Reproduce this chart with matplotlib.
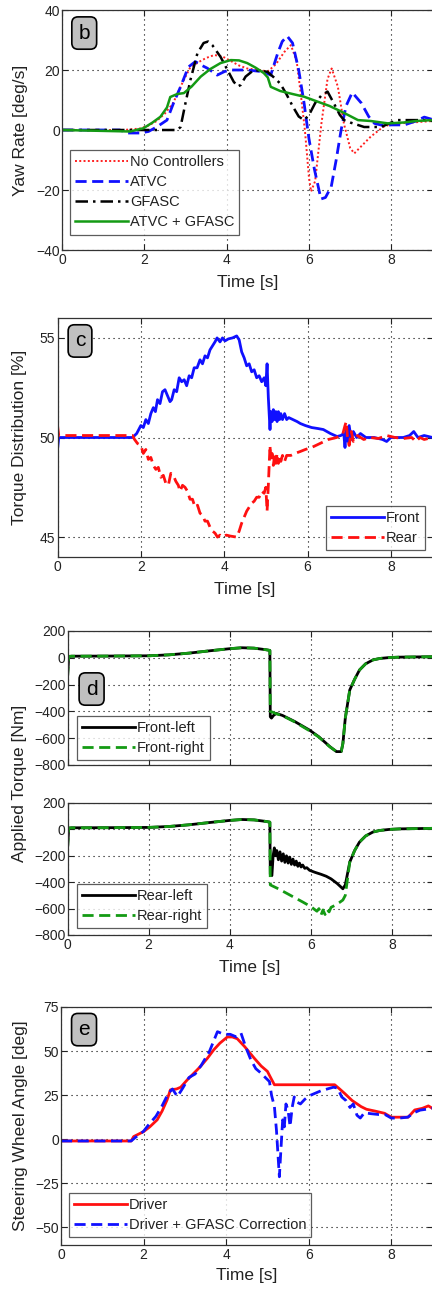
import matplotlib
matplotlib.use("Agg")
import matplotlib.pyplot as plt

plt.rcParams['font.family'] = ['Liberation Sans', 'DejaVu Sans']

# ---------------- (b) yaw rate ----------------
t_nc = [0, 1.5, 1.9, 2.1, 2.3, 2.5, 2.7, 2.9, 3.1, 3.3, 3.5, 3.7, 3.9, 4.1, 4.3, 4.5, 4.8, 5.0,
        5.2, 5.4, 5.56, 5.7, 5.8, 5.9, 6.0, 6.05, 6.15, 6.3, 6.45, 6.55, 6.7, 6.85, 7.0, 7.1,
        7.3, 7.5, 7.8, 8.0, 8.5, 9.0]
yaw_nc = [0, 0, 0.5, 1.5, 3, 5.5, 9, 15, 20.5, 22.5, 24, 25, 24.5, 23, 21.5, 20.5, 20, 19.5,
          22, 26, 28.3, 23, 12, 0, -16, -20.5, -17, 2, 17, 20.5, 14.5, 2, -6, -7.8,
          -5, -2.2, 1, 2, 2.5, 3]

t_atvc = [0, 1.4, 1.6, 1.9, 2.1, 2.3, 2.55, 2.71, 2.88, 3.07, 3.24, 3.4, 3.53, 3.77, 3.95, 4.1,
          4.5, 4.9, 5.07, 5.24, 5.35, 5.47, 5.6, 5.75, 5.88, 6.0, 6.13, 6.29, 6.4, 6.54, 6.66,
          6.78, 6.9, 7.05, 7.27, 7.45, 7.59, 7.8, 8.0, 8.32, 8.6, 8.8, 9.0]
yaw_atvc = [0, 0, -1, -1, -0.5, 1, 3.3, 9, 14.4, 21, 22.8, 21.5, 20.6, 18.3, 19.5, 20,
            20, 19.4, 18.3, 25.6, 29.5, 31.3, 29, 20, 9, -3, -13, -23, -22.5, -18.9, -10,
            0, 8, 12.5, 9, 4.5, 2.2, 1.5, 1.7, 1.7, 3, 4.3, 3.5]

t_gfasc = [0, 1.5, 2.5, 2.8, 2.88, 3.0, 3.12, 3.29, 3.44, 3.55, 3.65, 3.85, 4.02, 4.17, 4.27,
           4.34, 4.46, 4.66, 4.99, 5.15, 5.3, 5.45, 5.6, 5.75, 5.88, 6.0, 6.15, 6.3, 6.45,
           6.6, 6.75, 6.85, 7.0, 7.34, 7.75, 8.0, 8.16, 8.5, 8.8, 9.0]
yaw_gfasc = [0, 0, 0, 0, 1, 9, 16.7, 25.6, 29, 29.5, 28.3, 24.4, 20, 16.1, 14.5,
             15, 17.8, 20, 19.4, 17.5, 15.5, 12, 8, 4.5, 3.3, 5, 9, 11.5, 12.8,
             9, 5, 3.3, 2.5, 1, 1, 2.5, 3.3, 3.3, 3.3, 3]

t_both = [0, 1.66, 1.98, 2.2, 2.39, 2.55, 2.63, 2.8, 2.96, 3.15, 3.37, 3.6, 3.85, 4.1, 4.3,
          4.5, 4.7, 4.9, 5.0, 5.07, 5.3, 5.6, 5.88, 6.2, 6.5, 6.7, 6.95, 7.19, 7.5, 7.92,
          8.3, 8.6, 9.0]
yaw_both = [0, -0.5, 0.6, 2.5, 4.4, 7.5, 11, 12, 12.3, 14.5, 17.8, 20.3, 22.3, 23.3, 23.2,
            22.3, 20.8, 19, 17.5, 14.4, 13, 12, 11.1, 9.5, 8, 6.7, 5, 3.3, 3, 2.2,
            2.5, 3, 3.3]

# ---------------- (c) torque distribution ----------------
t_front = [0, 0.03, 1.8, 1.9, 2.0, 2.06, 2.12, 2.18, 2.24, 2.3, 2.35, 2.4, 2.46, 2.52, 2.58,
           2.64, 2.7, 2.74, 2.8, 2.86, 2.92, 2.98, 3.04, 3.1, 3.16, 3.22, 3.28, 3.35, 3.42,
           3.48, 3.54, 3.6, 3.66, 3.72, 3.78, 3.83, 3.9, 3.96, 4.02, 4.1, 4.2, 4.3, 4.36,
           4.42, 4.48, 4.54, 4.6, 4.66, 4.72, 4.78, 4.84, 4.9, 4.96, 5.0, 5.03, 5.06, 5.1,
           5.12, 5.15, 5.18, 5.21, 5.24, 5.27, 5.3, 5.33, 5.36, 5.4, 5.45, 5.5, 5.55, 5.65,
           5.75, 5.83, 5.95, 6.1, 6.25, 6.38, 6.55, 6.71, 6.8, 6.87, 6.9, 6.93, 6.97, 7.0,
           7.05, 7.1, 7.18, 7.27, 7.4, 7.6, 7.8, 7.9, 8.0, 8.3, 8.45, 8.55, 8.65, 8.8, 8.9, 9.0]
dist_front = [49.4, 50.0, 50.0, 50.2, 50.6, 50.5, 50.9, 50.7, 51.2, 51.5, 51.3, 51.9, 51.7,
              52.3, 52.4, 52.1, 51.8, 51.9, 52.4, 52.3, 53.0, 52.8, 52.9, 52.6, 53.1, 53.0,
              53.5, 53.5, 53.9, 53.7, 54.1, 54.0, 54.4, 54.6, 54.8, 55.0, 54.8, 55.0, 54.85,
              54.95, 55.0, 55.1, 54.9, 54.3, 54.0, 53.6, 53.7, 53.3, 53.4, 53.0, 53.1, 52.8,
              53.0, 52.6, 53.7, 52.0, 50.4, 51.3, 50.8, 51.4, 50.9, 51.3, 50.8, 51.3, 50.9,
              51.2, 50.9, 51.2, 50.9, 51.0, 50.9, 50.8, 50.7, 50.6, 50.5, 50.45, 50.4, 50.2,
              50.05, 50.1, 50.2, 49.5, 50.4, 49.8, 50.6, 49.9, 50.3, 50.0, 50.2, 50.0, 50.0,
              49.9, 49.8, 50.0, 50.0, 50.1, 50.3, 50.0, 50.1, 50.05, 50.0]

t_rear = [0, 0.03, 1.8, 1.85, 1.92, 2.0, 2.06, 2.12, 2.18, 2.24, 2.3, 2.36, 2.42, 2.48, 2.54,
          2.6, 2.66, 2.72, 2.78, 2.84, 2.9, 2.94, 3.0, 3.06, 3.12, 3.18, 3.24, 3.3, 3.36, 3.42,
          3.48, 3.54, 3.6, 3.66, 3.72, 3.78, 3.84, 3.9, 3.96, 4.05, 4.15, 4.3, 4.36, 4.42,
          4.48, 4.54, 4.6, 4.66, 4.72, 4.78, 4.84, 4.9, 4.96, 5.0, 5.03, 5.06, 5.1, 5.12,
          5.15, 5.18, 5.21, 5.24, 5.27, 5.3, 5.33, 5.36, 5.4, 5.45, 5.5, 5.6, 5.7, 5.83,
          5.95, 6.1, 6.3, 6.5, 6.7, 6.85, 6.9, 6.93, 6.96, 7.0, 7.05, 7.1, 7.2, 7.35, 7.5,
          7.7, 7.9, 8.1, 8.3, 8.5, 8.6, 8.7, 8.8, 9.0]
dist_rear = [50.6, 50.1, 50.1, 49.9, 49.7, 49.6, 49.2, 49.4, 48.9, 49.0, 48.6, 48.4, 48.5,
             48.0, 48.1, 47.7, 47.6, 48.2, 48.1, 47.8, 47.6, 47.3, 47.6, 47.5, 47.3, 46.9,
             46.9, 46.5, 46.6, 46.2, 46.1, 45.8, 45.8, 45.5, 45.3, 45.2, 45.0, 45.1, 45.0,
             45.1, 45.05, 45.0, 45.3, 45.7, 46.0, 46.3, 46.5, 46.7, 46.8, 47.0, 47.0, 47.3,
             47.2, 47.5, 46.3, 47.6, 49.6, 48.8, 49.2, 48.6, 49.1, 48.7, 49.2, 48.7, 49.1,
             48.8, 49.1, 48.8, 49.1, 49.1, 49.2, 49.3, 49.4, 49.5, 49.7, 49.9, 50.0, 50.2,
             50.6, 50.8, 50.0, 49.6, 50.3, 49.8, 50.1, 49.9, 50.0, 49.95, 50.1, 50.0, 49.95,
             50.0, 49.8, 50.0, 49.9, 50.0]

# ---------------- (d) applied torque ----------------
t_fl = [0, 0.03, 0.1, 1.0, 2.0, 2.5, 3.0, 3.5, 4.0, 4.3, 4.6, 4.9, 4.99, 5.0, 5.03, 5.08,
        5.15, 5.3, 5.6, 5.97, 6.2, 6.47, 6.63, 6.75, 6.79, 6.85, 6.96, 7.08, 7.2, 7.35,
        7.53, 7.7, 7.94, 8.2, 9.0]
tq_fl = [-150, 10, 12, 13, 15, 22, 35, 52, 68, 75, 72, 60, 55, -440, -450, -430,
         -415, -430, -475, -540, -590, -663, -700, -700, -640, -450, -240, -160, -91, -45,
         -16, -5, 2, 5, 8]

t_fr = [0, 0.03, 0.1, 1.0, 2.0, 2.5, 3.0, 3.5, 4.0, 4.3, 4.6, 4.9, 4.99, 5.0, 5.05, 5.15,
        5.3, 5.6, 5.97, 6.2, 6.47, 6.63, 6.75, 6.79, 6.85, 6.96, 7.08, 7.2, 7.35, 7.53,
        7.7, 7.94, 8.2, 9.0]
tq_fr = [-150, 10, 12, 13, 15, 22, 35, 52, 68, 75, 72, 60, 55, -400, -405, -418,
         -432, -478, -545, -592, -665, -698, -698, -640, -450, -240, -160, -91, -45, -16,
         -5, 2, 5, 8]

t_rl = [0, 0.03, 0.1, 1.0, 2.0, 2.5, 3.0, 3.5, 4.0, 4.3, 4.6, 4.9, 4.99, 5.0, 5.04, 5.07,
        5.1, 5.13, 5.16, 5.2, 5.24, 5.28, 5.32, 5.36, 5.4, 5.44, 5.48, 5.52, 5.56, 5.6,
        5.64, 5.68, 5.72, 5.76, 5.8, 5.85, 5.9, 5.97, 6.1, 6.25, 6.38, 6.5, 6.65, 6.79,
        6.85, 6.96, 7.08, 7.2, 7.35, 7.53, 7.7, 7.94, 8.2, 9.0]
tq_rl = [-150, 10, 12, 13, 15, 22, 35, 52, 68, 75, 72, 60, 55, -340, -350, -200,
         -140, -200, -160, -230, -170, -240, -185, -250, -200, -255, -210, -265, -225, -270,
         -240, -280, -255, -285, -270, -295, -290, -310, -325, -340, -355, -375, -410, -450,
         -420, -248, -160, -96, -50, -20, -8, 0, 4, 8]

t_rr = [0, 0.03, 0.1, 1.0, 2.0, 2.5, 3.0, 3.5, 4.0, 4.3, 4.6, 4.9, 4.99, 5.0, 5.03, 5.2,
        5.5, 5.8, 6.0, 6.15, 6.2, 6.25, 6.3, 6.35, 6.4, 6.45, 6.5, 6.6, 6.7, 6.79, 6.85,
        6.96, 7.08, 7.2, 7.35, 7.53, 7.7, 7.94, 8.2, 9.0]
tq_rr = [-150, 10, 12, 13, 15, 22, 35, 52, 68, 75, 72, 60, 55, -420, -425, -450,
         -500, -550, -585, -620, -600, -650, -610, -645, -605, -625, -590, -575, -555, -535,
         -500, -248, -160, -96, -50, -20, -8, 0, 4, 8]

# ---------------- (e) steering wheel angle ----------------
t_drv = [0, 1.7, 1.76, 2.0, 2.15, 2.33, 2.45, 2.57, 2.65, 2.8, 2.9, 3.06, 3.2, 3.38, 3.55,
         3.7, 3.85, 4.03, 4.15, 4.27, 4.45, 4.68, 4.85, 5.0, 5.1, 5.17, 6.63, 6.75, 6.87,
         7.05, 7.27, 7.4, 7.6, 7.84, 8.0, 8.41, 8.57, 8.75, 8.9, 9.0]
swa_drv = [-1, -1, 1.5, 4.3, 7, 11, 16, 22.3, 28, 28.5, 29.5, 33.7, 37, 41.3, 46,
           50.7, 54.5, 58, 58, 57, 52.5, 46, 41.5, 38.5, 34, 30.9, 30.9, 28.5, 26,
           22, 18.5, 17, 16, 14.7, 12.5, 12.5, 16.6, 17.5, 18.9, 17.5]

t_corr = [0, 1.7, 1.8, 2.0, 2.15, 2.3, 2.45, 2.6, 2.7, 2.82, 2.95, 3.1, 3.25, 3.4, 3.6,
          3.79, 3.95, 4.1, 4.25, 4.36, 4.48, 4.6, 4.72, 4.85, 4.95, 5.05, 5.1, 5.17, 5.22,
          5.26, 5.29, 5.33, 5.37, 5.41, 5.45, 5.5, 5.55, 5.6, 5.65, 5.72, 5.8, 5.9, 6.0,
          6.15, 6.3, 6.45, 6.6, 6.7, 6.8, 6.9, 7.0, 7.08, 7.17, 7.25, 7.35, 7.5, 7.7, 7.85,
          8.0, 8.2, 8.4, 8.55, 8.7, 8.85, 9.0]
swa_corr = [-1, -1, 1, 4.5, 9, 13, 19, 26, 28.5, 24.2, 29, 35, 37, 42, 50,
            61, 59.5, 59.5, 58, 60.2, 52, 45, 40, 37.4, 35, 32.7, 25, 18.5, 5,
            -10, -21.3, -5, 11, 7, 20, 16.6, 7.2, 18, 24, 21, 20, 22.5, 24.5,
            26, 27.5, 28.5, 29.5, 29, 24, 22, 18, 20, 13.6, 12, 15, 14.5, 14, 14,
            12, 12, 12.5, 15, 16.5, 17, 17.5]

time_ticks = [0, 2, 4, 6, 8]
TXT = '#222222'
GREEN = '#149a14'

fig = plt.figure(figsize=(4.32, 12.91), dpi=100)
H = 1291.0
W = 432.0


def make_axes(left_px, top_px, bottom_px, right_px=432.5):
    return fig.add_axes([left_px / W, 1 - bottom_px / H,
                         (right_px - left_px) / W, (bottom_px - top_px) / H])


def style(ax, yticks, ylim, show_xlabels=True):
    ax.set_xlim(0, 9)
    ax.set_ylim(*ylim)
    ax.set_xticks(time_ticks)
    ax.set_yticks(yticks)
    ax.tick_params(direction='in', length=4, width=0.8, top=True, right=True,
                   labelsize=10, colors=TXT, pad=2)
    ax.tick_params(axis='y', pad=1.5)
    if not show_xlabels:
        ax.set_xticklabels([])
    ax.grid(True, color='black', linestyle=(0, (1, 3.5)), linewidth=0.8)
    for s in ax.spines.values():
        s.set_color('#333333')
        s.set_linewidth(0.9)


def tag(ax, letter, x, y):
    ax.text(x, y, letter, transform=ax.transAxes, ha='center', va='center',
            fontsize=15, color='black', zorder=10,
            bbox=dict(boxstyle='round,pad=0.32,rounding_size=0.3',
                      facecolor='#c0c0c0', edgecolor='black', linewidth=1.2))


def legend(ax, loc, anchor):
    lg = ax.legend(loc=loc, bbox_to_anchor=anchor, fontsize=10.5, frameon=True,
                   fancybox=False, edgecolor='#333333', handlelength=3.6,
                   handletextpad=0.15, labelspacing=0.42, borderpad=0.35,
                   borderaxespad=0.0, labelcolor=TXT)
    lg.get_frame().set_linewidth(0.9)
    lg.set_zorder(9)
    return lg


# (b)
axb = make_axes(62, 10, 250)
axb.plot(t_nc, yaw_nc, color='#ff2020', linestyle=(0, (1, 1.2)), lw=1.4, label='No Controllers')
axb.plot(t_atvc, yaw_atvc, color='#1010ff', linestyle=(0, (4, 2)), lw=2.0, label='ATVC')
axb.plot(t_gfasc, yaw_gfasc, color='black', linestyle=(0, (5, 2, 1, 2)), lw=1.8, label='GFASC')
axb.plot(t_both, yaw_both, color=GREEN, lw=1.8, label='ATVC + GFASC')
style(axb, [-40, -20, 0, 20, 40], (-40, 40))
axb.set_xlabel('Time [s]', fontsize=12.5, color=TXT)
axb.set_ylabel('Yaw Rate [deg/s]', fontsize=12.5, color=TXT)
axb.xaxis.set_label_coords(0.5, -0.104)
axb.yaxis.set_label_coords(-0.092, 0.5)
legend(axb, 'upper left', (0.022, 0.417))
tag(axb, 'b', 0.06, 0.904)

# (c)
axc = make_axes(57.5, 318, 557)
axc.plot(t_front, dist_front, color='#1010ff', lw=2.0, label='Front')
axc.plot(t_rear, dist_rear, color='#ff1010', linestyle=(0, (4, 2)), lw=2.0, label='Rear')
style(axc, [45, 50, 55], (44, 56))
axc.set_xlabel('Time [s]', fontsize=12.5, color=TXT)
axc.set_ylabel('Torque Distribution [%]', fontsize=12.5, color=TXT)
axc.xaxis.set_label_coords(0.5, -0.104)
axc.yaxis.set_label_coords(-0.081, 0.5)
legend(axc, 'lower right', (0.981, 0.029))
tag(axc, 'c', 0.06, 0.904)

# (d) front wheels
axd1 = make_axes(67.5, 631, 765)
axd1.plot(t_fl, tq_fl, color='black', lw=2.0, label='Front-left')
axd1.plot(t_fr, tq_fr, color=GREEN, linestyle=(0, (4, 2)), lw=2.0, label='Front-right')
style(axd1, [-800, -600, -400, -200, 0, 200], (-800, 200), show_xlabels=False)
legend(axd1, 'lower left', (0.026, 0.037))
tag(axd1, 'd', 0.066, 0.567)

# (d) rear wheels
axd2 = make_axes(67.5, 803, 935)
axd2.plot(t_rl, tq_rl, color='black', lw=2.0, label='Rear-left')
axd2.plot(t_rr, tq_rr, color=GREEN, linestyle=(0, (4, 2)), lw=2.0, label='Rear-right')
style(axd2, [-800, -600, -400, -200, 0, 200], (-800, 200))
axd2.set_xlabel('Time [s]', fontsize=12.5, color=TXT)
axd2.xaxis.set_label_coords(0.5, -0.19)
legend(axd2, 'lower left', (0.026, 0.053))
fig.text(20 / W, 1 - 783 / H, 'Applied Torque [Nm]', rotation=90, ha='center',
         va='center', fontsize=12.5, color=TXT)

# (e)
axe = make_axes(61, 1007, 1245)
axe.plot(t_drv, swa_drv, color='#ff1010', lw=2.0, label='Driver')
axe.plot(t_corr, swa_corr, color='#1010ff', linestyle=(0, (4, 2)), lw=2.0,
         label='Driver + GFASC Correction')
style(axe, [-50, -25, 0, 25, 50, 75], (-60, 75))
axe.set_xlabel('Time [s]', fontsize=12.5, color=TXT)
axe.set_ylabel('Steering Wheel Angle [deg]', fontsize=12.5, color=TXT)
axe.xaxis.set_label_coords(0.5, -0.097)
axe.yaxis.set_label_coords(-0.089, 0.5)
legend(axe, 'lower left', (0.0216, 0.034))
tag(axe, 'e', 0.062, 0.905)

fig.savefig('out.png', dpi=100)
